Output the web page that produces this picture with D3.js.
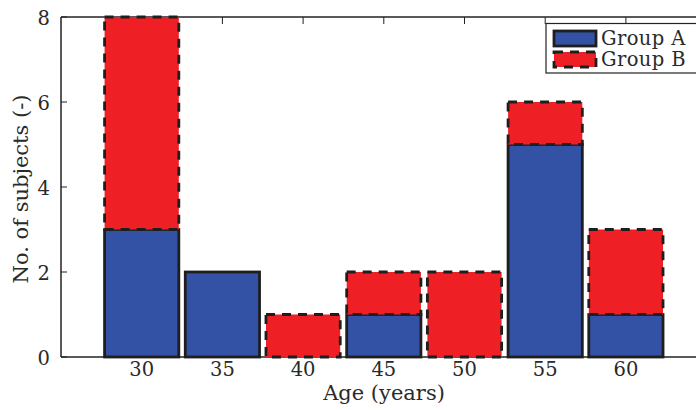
<!DOCTYPE html>
<html>
<head>
<meta charset="utf-8">
<script src="https://cdn.jsdelivr.net/npm/d3@7"></script>
<style>
  html, body { margin: 0; padding: 0; background: #fff; }
  svg { display: block; }
</style>
</head>
<body>
<script>
// Age bins and subject counts per group
const ages = [30, 35, 40, 45, 50, 55, 60];
const groupA = [3, 2, 0, 1, 0, 5, 1];
const groupB = [5, 0, 1, 1, 2, 1, 2];
const yTicks = [0, 2, 4, 6, 8];
const seriesNames = ["Group A", "Group B"];
const colors = ["#3352a5", "#ee2025"];

const FONT = "'DejaVu Serif', serif";
const W = 696, H = 410;
const svg = d3.select("body").append("svg").attr("width", W).attr("height", H)
  .style("font-family", FONT);

const x = d3.scaleLinear().domain([25, 65]).range([61, 706.6]);
const y = d3.scaleLinear().domain([0, 8]).range([357, 17]);
const barW = (x(5) - x(0)) * 0.92;

const rows = ages.map((a, i) => ({ age: a, A: groupA[i], B: groupB[i] }));
const stacked = d3.stack().keys(["A", "B"])(rows);

const axisColor = "#222";
const textColor = "#2a2a2a";

// Box lines (left, bottom, top) with inward ticks
const frame = svg.append("g");
frame.append("line").attr("x1", x(25)).attr("x2", W + 5).attr("y1", y(8)).attr("y2", y(8))
  .attr("stroke", axisColor).attr("stroke-width", 1.5);
frame.append("line").attr("x1", x(25)).attr("x2", W + 5).attr("y1", y(0)).attr("y2", y(0))
  .attr("stroke", axisColor).attr("stroke-width", 1.5);
frame.append("line").attr("x1", x(25)).attr("x2", x(25)).attr("y1", y(0)).attr("y2", y(8))
  .attr("stroke", axisColor).attr("stroke-width", 1.5);

// y ticks pointing inward
frame.selectAll(".yt").data(yTicks).join("line")
  .attr("x1", x(25)).attr("x2", x(25) + 6)
  .attr("y1", d => y(d)).attr("y2", d => y(d))
  .attr("stroke", axisColor).attr("stroke-width", 1);
// x ticks on bottom and top, pointing inward
frame.selectAll(".xtb").data(ages).join("line")
  .attr("x1", d => x(d)).attr("x2", d => x(d))
  .attr("y1", y(0)).attr("y2", y(0) - 6)
  .attr("stroke", axisColor).attr("stroke-width", 1);
frame.selectAll(".xtt").data(ages).join("line")
  .attr("x1", d => x(d)).attr("x2", d => x(d))
  .attr("y1", y(8)).attr("y2", y(8) + 7)
  .attr("stroke", axisColor).attr("stroke-width", 1);

// Stacked bars
const dashes = [null, "9,7"];
stacked.forEach((layer, k) => {
  svg.append("g").selectAll("rect").data(layer).join("rect")
    .attr("x", d => x(d.data.age) - barW / 2)
    .attr("width", barW)
    .attr("y", d => y(d[1]))
    .attr("height", d => y(d[0]) - y(d[1]))
    .attr("fill", colors[k])
    .attr("stroke", "#1e1e1e")
    .attr("stroke-width", 2.8)
    .attr("stroke-dasharray", dashes[k]);
});

// Tick labels
svg.append("g").selectAll("text").data(ages).join("text")
  .attr("x", d => x(d)).attr("y", 376)
  .attr("text-anchor", "middle").attr("font-size", 19.5)
  .attr("font-family", FONT).attr("fill", textColor)
  .text(d => d);
svg.append("g").selectAll("text").data(yTicks).join("text")
  .attr("x", 50).attr("y", d => y(d) + 7.5)
  .attr("text-anchor", "end").attr("font-size", 19.5)
  .attr("font-family", FONT).attr("fill", textColor)
  .text(d => d);

// Axis titles
svg.append("text").attr("x", 384).attr("y", 400)
  .attr("text-anchor", "middle").attr("font-size", 21)
  .attr("font-family", FONT).attr("fill", textColor)
  .text("Age (years)");
svg.append("text").attr("transform", "translate(28,189) rotate(-90)")
  .attr("text-anchor", "middle").attr("font-size", 21)
  .attr("font-family", FONT).attr("fill", textColor)
  .text("No. of subjects (-)");

// Legend
const lg = svg.append("g");
lg.append("rect").attr("x", 546).attr("y", 23.5).attr("width", 160).attr("height", 49.5)
  .attr("fill", "#fff").attr("stroke", axisColor).attr("stroke-width", 1.2);
seriesNames.forEach((name, k) => {
  const top = k === 0 ? 31 : 52;
  lg.append("rect").attr("x", 554).attr("y", top).attr("width", 42).attr("height", 15)
    .attr("fill", colors[k]).attr("stroke", "#1e1e1e").attr("stroke-width", 2.8)
    .attr("stroke-dasharray", dashes[k]);
  lg.append("text").attr("x", 601).attr("y", k === 0 ? 45 : 66)
    .attr("font-size", 19.5).attr("letter-spacing", 0.4)
    .attr("font-family", FONT).attr("fill", textColor)
    .text(name);
});
</script>
</body>
</html>
